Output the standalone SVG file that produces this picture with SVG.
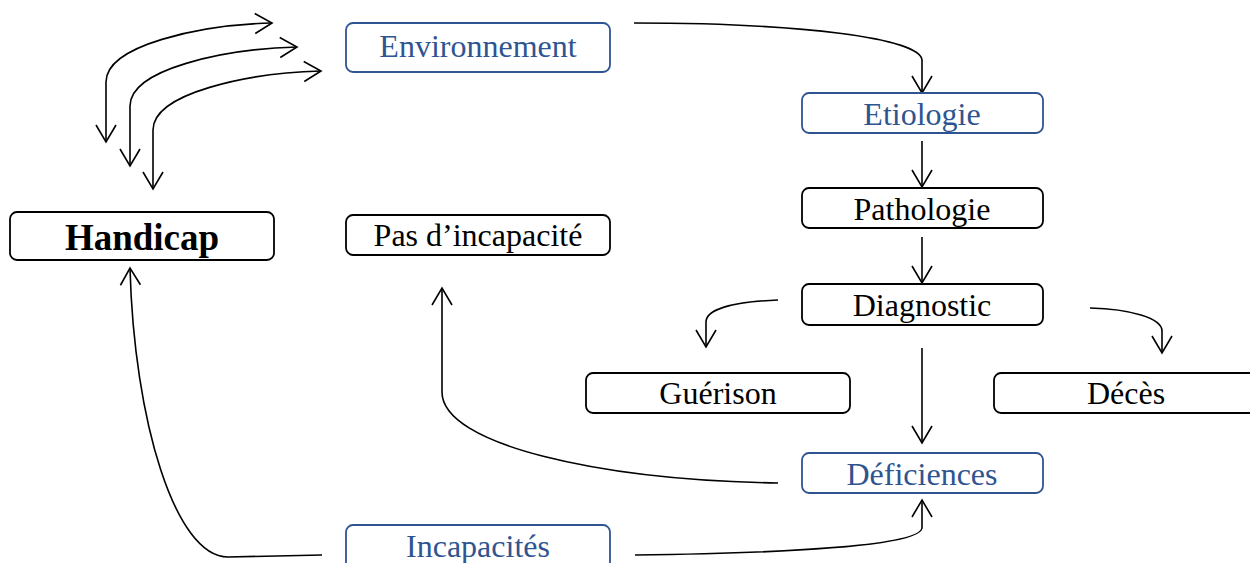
<svg xmlns="http://www.w3.org/2000/svg" width="1250" height="563" viewBox="0 0 1250 563">
<style>
.box{fill:#fff;stroke:#000;stroke-width:1.8}
.bbox{fill:#fff;stroke:#2E5591;stroke-width:1.8}
.t{font-family:"Liberation Serif","Times New Roman",serif;font-size:32px;fill:#000;text-anchor:middle}
.bt{fill:#2E5591}
.hb{font-weight:bold;font-size:37px}
.c{fill:none;stroke:#000;stroke-width:1.6;marker-end:url(#a)}
.c2{fill:none;stroke:#000;stroke-width:1.6;marker-start:url(#a);marker-end:url(#a)}
</style>
<defs>
<marker id="a" markerUnits="userSpaceOnUse" markerWidth="40" markerHeight="40" viewBox="-20 -20 40 40" refX="0" refY="0" orient="auto-start-reverse">
<path d="M-17,-10 L0,0 L-17,10" fill="none" stroke="#000" stroke-width="1.6"/>
</marker>
</defs>
<rect width="1250" height="563" fill="#fff"/>
<g id="connectors">
<path class="c2" d="M106,142 L106,82 C106,45 200,25 272,23"/>
<path class="c2" d="M130,166 L130,106 C130,69 224,49 297,47"/>
<path class="c2" d="M153,189 L153,130 C153,93 248,73 321,71"/>
<path class="c" d="M634,23 C800,23 920,38 922,60 L922,93"/>
<path class="c" d="M922,141 L922,187"/>
<path class="c" d="M922,237 L922,283"/>
<path class="c" d="M778,300 C730,302 706,310 706,322 L706,347"/>
<path class="c" d="M1090,308 C1130,309 1162,318 1162,331 L1162,353"/>
<path class="c" d="M922,348 L922,443"/>
<path class="c" d="M778,483 C600,480 442,445 442,392 L442,288"/>
<path class="c" d="M322,555 L228,557 C175,557 134,420 130,268"/>
<path class="c" d="M635,555 C800,553 920,545 922,528 L922,500"/>
</g>
<g id="handicap"><rect class="box" x="10" y="212" width="264" height="48" rx="7"/><text class="t hb" x="142" y="250">Handicap</text></g>
<g id="environnement"><rect class="bbox" x="346" y="23" width="264" height="49" rx="7"/><text class="t bt" x="478" y="57">Environnement</text></g>
<g id="pas-incapacite"><rect class="box" x="346" y="215" width="264" height="40" rx="7"/><text class="t" x="478" y="246">Pas d’incapacité</text></g>
<g id="etiologie"><rect class="bbox" x="802" y="93" width="241" height="40" rx="7"/><text class="t bt" x="922" y="125">Etiologie</text></g>
<g id="pathologie"><rect class="box" x="802" y="188" width="241" height="40" rx="7"/><text class="t" x="922" y="220">Pathologie</text></g>
<g id="diagnostic"><rect class="box" x="802" y="284" width="241" height="41" rx="7"/><text class="t" x="922" y="316">Diagnostic</text></g>
<g id="guerison"><rect class="box" x="586" y="373" width="264" height="40" rx="7"/><text class="t" x="718" y="404">Guérison</text></g>
<g id="deces"><rect class="box" x="994" y="373" width="264" height="40" rx="7"/><text class="t" x="1126" y="404">Décès</text></g>
<g id="deficiences"><rect class="bbox" x="802" y="453" width="241" height="40" rx="7"/><text class="t bt" x="922" y="485">Déficiences</text></g>
<g id="incapacites"><rect class="bbox" x="346" y="525" width="264" height="49" rx="7"/><text class="t bt" x="478" y="557">Incapacités</text></g>
</svg>
